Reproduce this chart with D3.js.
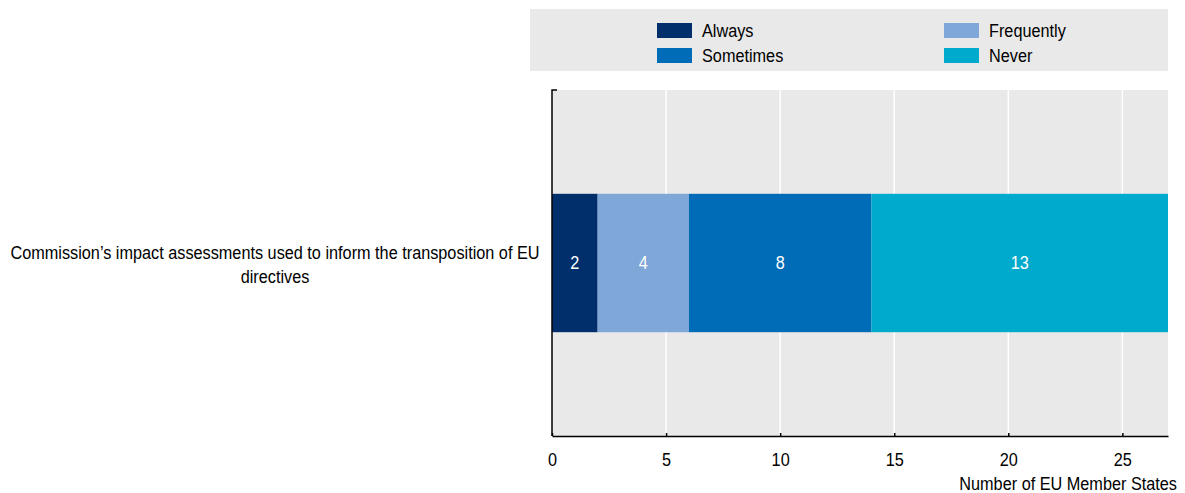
<!DOCTYPE html>
<html>
<head>
<meta charset="utf-8">
<script src="https://cdn.jsdelivr.net/npm/d3@7"></script>
<style>
  html, body { margin: 0; padding: 0; background: #fff; }
  svg { display: block; font-family: "Liberation Sans", Arial, sans-serif; }
</style>
</head>
<body>
<svg id="chart" width="1185" height="493"></svg>
<script>
// Survey question (single row) and response categories
const categories = ["Commission’s impact assessments used to inform the transposition of EU directives"];
const seriesNames = ["Always", "Frequently", "Sometimes", "Never"];
const seriesColors = ["#002f6c", "#7fa8d9", "#006bb6", "#00aacc"];
const alwaysValues = [2];
const frequentlyValues = [4];
const sometimesValues = [8];
const neverValues = [13];
const xTicks = [0, 5, 10, 15, 20, 25];
const xTitle = "Number of EU Member States";

const seriesValues = [alwaysValues, frequentlyValues, sometimesValues, neverValues];
const rows = categories.map((c, i) => {
  const r = { category: c };
  seriesNames.forEach((s, j) => { r[s] = seriesValues[j][i]; });
  return r;
});

// Text is drawn slightly condensed to imitate a narrow sans face
const FONT_SIZE = 17.5;
const SQUEEZE = 0.93;

const svg = d3.select("#chart");
const margin = { left: 552, right: 1168, top: 90, bottom: 436 };

const x = d3.scaleLinear().domain([0, 27]).range([margin.left, margin.right]);
const y = d3.scaleBand().domain(categories).range([margin.top, margin.bottom]).paddingInner(0).paddingOuter(0.75);

// Helper: condensed text anchored at (px, py)
function label(parent, px, py, str, anchor) {
  return parent.append("text")
    .attr("transform", `translate(${px},${py}) scale(${SQUEEZE},1)`)
    .attr("text-anchor", anchor || "start")
    .attr("font-size", FONT_SIZE)
    .attr("fill", "#000")
    .text(str);
}

// Plot background
svg.append("rect")
  .attr("x", margin.left).attr("y", margin.top)
  .attr("width", margin.right - margin.left).attr("height", margin.bottom - margin.top)
  .attr("fill", "#e9e9e9");

// Vertical gridlines
svg.append("g").selectAll("line").data(xTicks.filter(d => d > 0)).join("line")
  .attr("x1", d => x(d)).attr("x2", d => x(d))
  .attr("y1", margin.top).attr("y2", margin.bottom)
  .attr("stroke", "#fff").attr("stroke-width", 1.5);

// Stacked bars
const stack = d3.stack().keys(seriesNames);
const layers = stack(rows);
const color = d3.scaleOrdinal().domain(seriesNames).range(seriesColors);

const layerG = svg.append("g").selectAll("g").data(layers).join("g")
  .attr("fill", d => color(d.key));

layerG.selectAll("rect").data(d => d).join("rect")
  .attr("x", d => x(d[0]))
  .attr("width", d => x(d[1]) - x(d[0]))
  .attr("y", d => y(d.data.category))
  .attr("height", y.bandwidth());

// Value labels inside segments
layerG.each(function (layer) {
  const g = d3.select(this);
  layer.forEach(v => {
    label(g, (x(v[0]) + x(v[1])) / 2, y(v.data.category) + y.bandwidth() / 2 + 6,
      v.data[layer.key], "middle").attr("fill", "#fff");
  });
});

// Bottom axis
const xAxis = d3.axisBottom(x).tickValues(xTicks).tickSizeInner(-3).tickSizeOuter(0).tickPadding(18);
const gx = svg.append("g").attr("transform", `translate(0,${margin.bottom})`).call(xAxis);
gx.select(".domain").attr("stroke", "#000").attr("stroke-width", 1.5);
gx.selectAll(".tick line").attr("stroke", "#000").attr("stroke-width", 1.5);
gx.selectAll(".tick text")
  .attr("font-size", FONT_SIZE).attr("fill", "#000")
  .attr("font-family", "inherit")
  .attr("transform", `scale(${SQUEEZE},1)`);

// Left axis line with small cap at the top
svg.append("path")
  .attr("d", `M${margin.left + 5},${margin.top} H${margin.left} V${margin.bottom}`)
  .attr("fill", "none").attr("stroke", "#000").attr("stroke-width", 1.5);

// Axis title
label(svg, 1177, 490, xTitle, "end");

// Category label (wrapped in two centred lines)
const catLines = ["Commission’s impact assessments used to inform the transposition of EU", "directives"];
const cy = y(categories[0]) + y.bandwidth() / 2;
catLines.forEach((line, i) => label(svg, 275, cy - 4 + i * 24, line, "middle"));

// Legend
const legend = svg.append("g");
legend.append("rect")
  .attr("x", 530).attr("y", 9).attr("width", 638).attr("height", 62)
  .attr("fill", "#e9e9e9");
const legendPos = [
  { x: 657, y: 23 }, { x: 944, y: 23 },
  { x: 657, y: 48 }, { x: 944, y: 48 }
];
seriesNames.forEach((name, i) => {
  const item = legend.append("g")
    .attr("transform", `translate(${legendPos[i].x},${legendPos[i].y})`);
  item.append("rect")
    .attr("width", 35).attr("height", 15)
    .attr("fill", color(name));
  label(item, 45, 14, name, "start");
});
</script>
</body>
</html>
